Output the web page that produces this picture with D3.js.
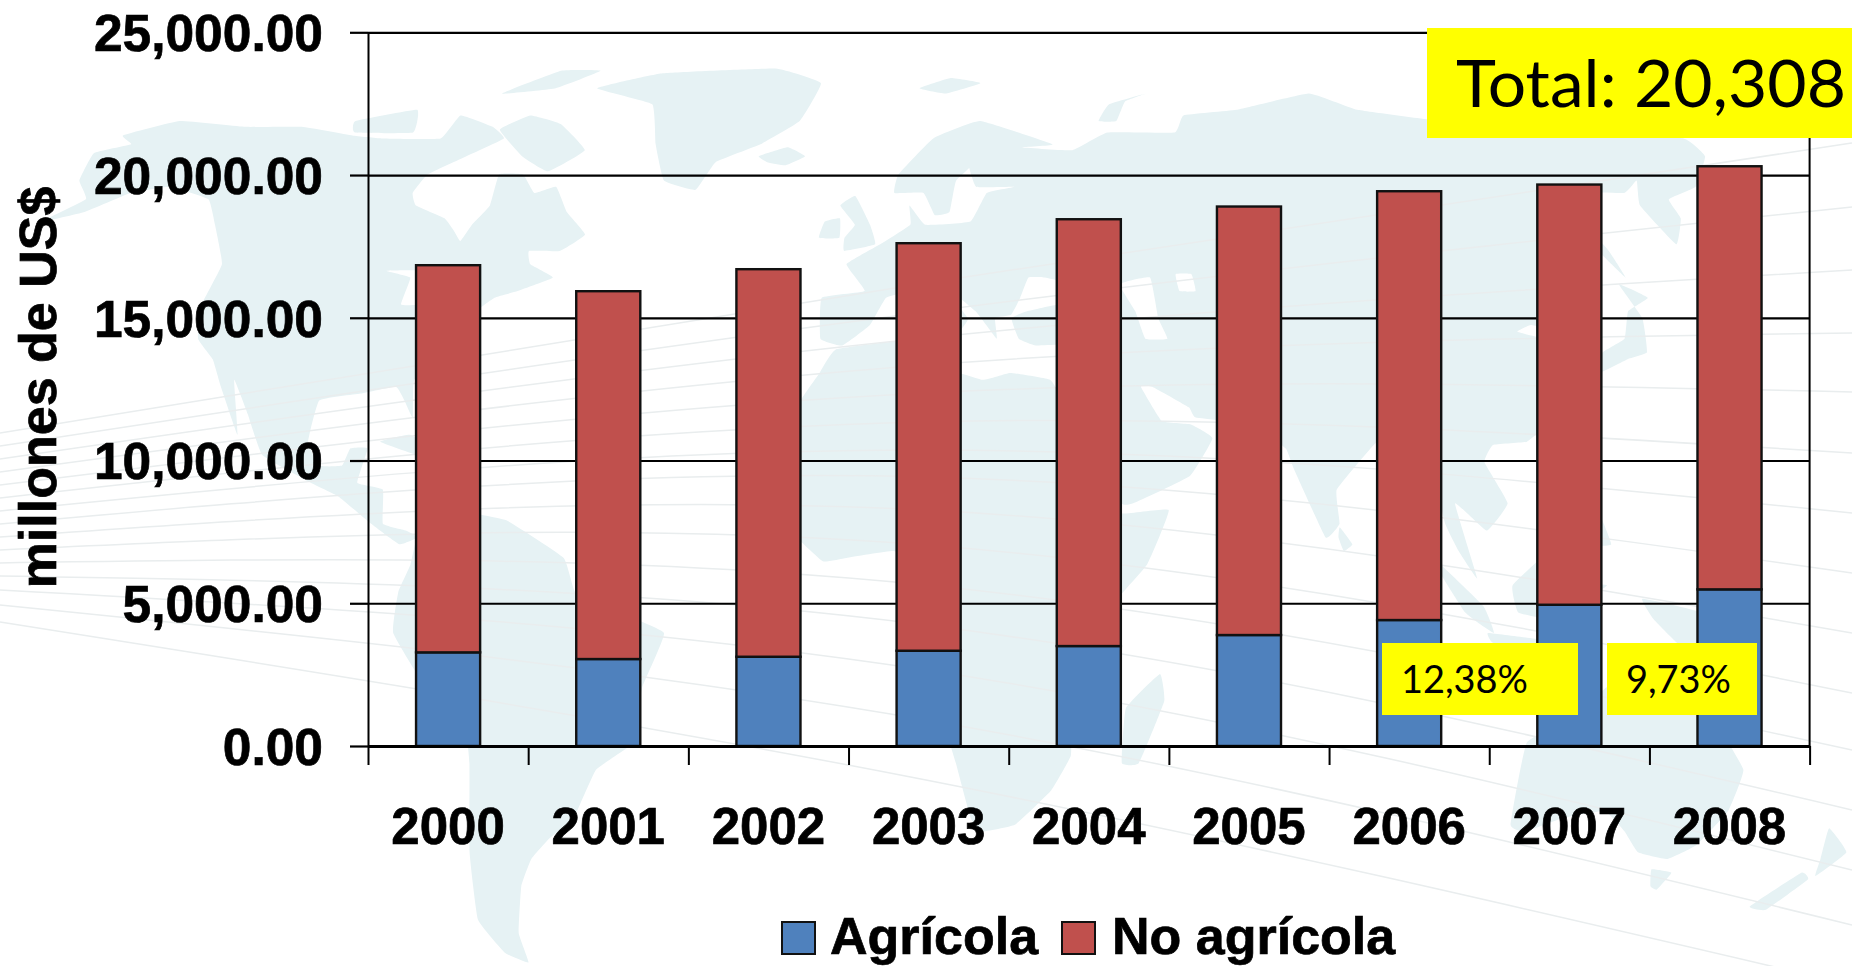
<!DOCTYPE html>
<html>
<head>
<meta charset="utf-8">
<script src="https://cdn.jsdelivr.net/npm/d3@7"></script>
<style>
    html, body { margin: 0; padding: 0; background: #fff; }
    svg { display: block; }
    text { font-family: "Liberation Sans", Arial, sans-serif; font-weight: bold; fill: #000; stroke: #000; stroke-width: 0.7; }
    .note { font-family: Lato, sans-serif; font-weight: normal; stroke: none; }
</style>
</head>
<body>
<svg id="chart" width="1852" height="966"></svg>
<script>
var years = ["2000", "2001", "2002", "2003", "2004", "2005", "2006", "2007", "2008"];
var agricola = [3280, 3046, 3127, 3337, 3501, 3887, 4412, 4948, 5487];
var no_agricola = [13562, 12885, 13575, 14275, 14951, 15010, 15021, 14719, 14821];
var yticks = [0, 5000, 10000, 15000, 20000, 25000];
var series_names = ["Agrícola", "No agrícola"];
var series_colors = ["#4f81bd", "#c0504d"];

// background map, rough coast outlines as [lon, lat]
var north_america = [[-168,65.5],[-162,67],[-166,68.5],[-157,71],[-141,70],[-128,70],[-115,68.5],[-108,68],[-95,68],[-94,72],[-85,70],[-81,68],[-87,65],[-93,62],[-94,59],[-92,57],[-85,55],[-82,53],[-80,51.5],[-79,54],[-77,57],[-78,62],[-73,62],[-69,59],[-65,60],[-61,56],[-56,52.5],[-60,50],[-66,50],[-65,48],[-60,46],[-66,44],[-70,43],[-74,40],[-76,35],[-81,31],[-80,25.5],[-82,28],[-84,30],[-90,29],[-97,28],[-97.5,22],[-95,18.5],[-91,18.5],[-90,21],[-87,21],[-88,16],[-83.5,15],[-83,10],[-79,9],[-77,8],[-80,7],[-85,10],[-91,14],[-96,16],[-105,20],[-109,26],[-113,31],[-110,23],[-115,30],[-118,34],[-122,37],[-124,42],[-124,48],[-130,54],[-135,58],[-145,60],[-152,59],[-158,56],[-165,54.5],[-160,58],[-165,61]];
var south_america = [[-77,8],[-72,12],[-62,10.5],[-52,5],[-50,0],[-44,-2.5],[-35,-6],[-39,-14],[-41,-22],[-48,-26],[-53,-33],[-58,-36],[-62,-39],[-65,-43],[-68,-50],[-68,-54.5],[-72,-53],[-75,-48],[-73,-38],[-70,-25],[-70,-18],[-76,-14],[-81,-6],[-80,0],[-78,4]];
var greenland = [[-66,77],[-52,80],[-24,81],[-12,78],[-16,71],[-24,67],[-33,64],[-36,59.5],[-43,61],[-47,67],[-51,74]];
var africa = [[-6,35.5],[10,37],[11,33.5],[20,31],[25,32],[32,31],[34,28],[37,21],[39,15],[43,11.5],[51,12],[47,4],[40,-3],[39,-9],[40.5,-15],[35,-20],[35,-24],[32,-29],[26,-34],[20,-35],[18,-33],[15,-25],[12,-17],[13,-8],[9,-1],[9.5,4],[4,6],[-4,5],[-8,4.5],[-13,8.5],[-17,14.5],[-16,20],[-13,27],[-9,32]];
var eurasia = [[-9,37],[-9,43],[-1,44],[-4.5,48],[2,51],[8,54],[8,57],[11,54],[20,54.5],[24,59],[30,60],[22,60],[21,64],[25,65.5],[18,61],[16,56],[13,55.5],[11,59],[5,59],[6,62],[14,68],[25,71],[40,67],[33,66.5],[44,66],[53,69],[68,69],[72,72],[85,73],[105,76],[113,73],[130,71],[140,72],[160,69.5],[180,68],[180,65],[171,60],[163,58],[162,55],[157,51],[156,57],[160,61],[155,59],[143,59],[135,54],[141,52],[135,44],[130,42.5],[127.5,39.5],[129,36],[126.5,34.5],[125,38],[121,39],[118,38],[122,37],[120,34],[122,30],[119,25],[114,22],[108,21.5],[106,19],[109,13],[105,9],[100,13],[103,2],[100,6],[98,10],[97,16],[94,16],[92,21],[88,22],[80,15],[80,10],[77.5,8],[73,18],[72,21],[67,24.5],[57,25.5],[56,27],[50,30],[48,30],[51,25],[56,24.5],[59.5,22.5],[55,17],[45,13],[43,13],[39,21],[35,28],[35,31],[36,36],[30,36],[27,37],[26,40],[29,41],[35,42],[41,41.5],[38,45],[33,46],[30,46],[28,43],[26,40.5],[23,40],[23,37],[19.5,41],[13,45.5],[18,40],[16,38],[12,42],[8,44],[3,43],[0,39],[-5,36]];
var australia = [[114,-22],[122,-18],[126,-14],[131,-12],[136,-12],[136,-15],[140,-17],[142,-11],[146,-19],[153,-26],[153,-32],[150,-37],[146,-39],[140,-38],[136,-35],[131,-32],[124,-33],[118,-35],[115,-34]];
var islands = [
    [[-5,50],[1,51],[0,54],[-3,58.5],[-6,57],[-3,54],[-5,52]],
    [[-10,52],[-6,52],[-6,55],[-9,54.5]],
    [[-24,65],[-18,66.5],[-14,65],[-18,63.5],[-22,64]],
    [[12,77],[20,79],[27,78],[18,76]],
    [[52,71],[56,74],[66,76],[60,74.5],[56,71]],
    [[-78,72],[-70,70.5],[-62,66],[-68,62.5],[-75,65],[-83,69.5]],
    [[-88,76],[-78,80.5],[-68,80.5],[-76,77]],
    [[-117,71],[-105,73],[-102,69],[-115,69]],
    [[-85,22],[-80,23],[-74,20],[-78,20]],
    [[-74,20],[-69,19.5],[-69,18],[-74,18]],
    [[95,5.5],[104,-2],[106,-6],[101,-3]],
    [[105,-6],[114,-7],[114,-8.5],[106,-7.5]],
    [[109,1],[117,7],[119,1],[116,-4],[110,-3]],
    [[119,1],[125,1],[122,-1],[123,-5],[120,-5]],
    [[131,-1],[141,-3],[150,-9],[143,-9],[138,-8],[133,-4]],
    [[120,18],[122,18],[124,13],[126,7],[122,7],[120,14]],
    [[130,32],[136,34],[140,35],[142,40],[141,45],[145,43],[140,41],[137,37],[132,35]],
    [[142,54],[143,50],[143,46],[141,50]],
    [[80,9.5],[82,7],[80.5,6],[79.7,8]],
    [[144,-40.5],[148,-41],[147,-43.5],[145.5,-43]],
    [[172.5,-34.5],[178,-38],[175,-41.5],[174,-39]],
    [[172,-41],[174,-42],[170,-46.5],[166.5,-46]],
    [[49.5,-12],[50.5,-16],[47,-25],[44,-25],[44,-17]]
];
var inland_water = [
    [[47,45],[53,46],[53,40],[54,37],[50,37],[49,41]],
    [[-92,47],[-84,47],[-80,44],[-79,43],[-83,42],[-87,42],[-87,46]],
    [[58,46.5],[61,46.5],[61,44],[58,44]]
];

// faint arcs of the slide background, y at the left edge, middle and right edge
var arc_left = [433, 446, 459, 472, 485, 498, 511, 524, 537, 550, 563, 576, 590, 605, 622];
var arc_middle = [283, 312, 338, 365, 393, 422, 450, 477, 510, 545, 585, 625, 670, 720, 780];
var arc_right = [143, 207, 270, 333, 392, 453, 513, 573, 633, 693, 750, 810, 870, 925, 985];

function build_background(svg) {
    var projection = d3.geoNaturalEarth1().scale(388).translate([870, 592]);
    var outline = d3.line().curve(d3.curveCardinalClosed.tension(0.7));
    var land = [north_america, south_america, greenland, africa, eurasia, australia].concat(islands);

    var g = svg.append("g").attr("class", "background");
    g.selectAll("path.land")
        .data(land)
        .join("path")
        .attr("class", "land")
        .attr("fill", "#e6f2f4")
        .attr("d", d => outline(d.map(projection)));

    g.selectAll("path.water")
        .data(inland_water)
        .join("path")
        .attr("class", "water")
        .attr("fill", "#fff")
        .attr("d", d => outline(d.map(projection)));

    var arc = d3.line().curve(d3.curveNatural);
    arc_left.forEach(function(left, i) {
        g.append("path")
            .attr("fill", "none")
            .attr("stroke", "#e9edee")
            .attr("stroke-width", 1.5)
            .attr("d", arc([[0, left], [926, arc_middle[i]], [1852, arc_right[i]]]));
    });
}

function build_chart() {
    const LEFT = 368, RIGHT = 1809.6, TOP = 32.3, BOTTOM = 746;
    const FONT_SIZE = 51.5;

    var svg = d3.select("svg#chart");
    build_background(svg);

    var xscale = d3.scaleBand()
        .domain(years)
        .range([LEFT, RIGHT])
        .paddingInner(0.6)
        .paddingOuter(0.3);

    // ticks sit between the categories
    var xedges = d3.scaleLinear()
        .domain([0, years.length])
        .range([LEFT, RIGHT]);

    var yscale = d3.scaleLinear()
        .domain([0, 25000])
        .range([BOTTOM, TOP]);

    // gridlines and the axes
    var yaxis = d3.axisLeft(yscale)
        .tickValues(yticks)
        .tickFormat(d3.format(",.2f"))
        .tickSize(-(RIGHT - LEFT))
        .tickPadding(45)
        .tickSizeOuter(0);

    var y_g = svg.append("g")
        .attr("transform", "translate(" + LEFT + ",0)")
        .call(yaxis);
    y_g.selectAll(".tick line").attr("stroke", "#000").attr("stroke-width", 2.2);
    y_g.select(".domain").attr("stroke", "#000").attr("stroke-width", 2);
    y_g.selectAll(".tick text").attr("font-size", FONT_SIZE).attr("dy", "0.355em");

    // little outer tick part left of the axis
    svg.append("g")
        .attr("transform", "translate(" + LEFT + ",0)")
        .call(d3.axisLeft(yscale).tickValues(yticks).tickFormat("").tickSize(18).tickSizeOuter(0))
        .call(g => g.select(".domain").remove())
        .selectAll("line").attr("stroke", "#000").attr("stroke-width", 2.2);

    svg.append("line")
        .attr("x1", RIGHT).attr("x2", RIGHT)
        .attr("y1", TOP).attr("y2", BOTTOM)
        .attr("stroke", "#000")
        .attr("stroke-width", 2);

    // stacked bars
    var stack = d3.stack().keys([0, 1]).value((d, key) => d[key]);
    var rows = years.map((year, i) => [agricola[i], no_agricola[i]]);
    var layers = stack(rows);

    svg.selectAll("g.layer")
        .data(layers)
        .join("g")
        .attr("class", "layer")
        .attr("fill", (d, i) => series_colors[i])
        .selectAll("rect")
        .data(d => d)
        .join("rect")
        .attr("x", (d, i) => xscale(years[i]))
        .attr("width", xscale.bandwidth())
        .attr("y", d => yscale(d[1]))
        .attr("height", d => yscale(d[0]) - yscale(d[1]))
        .attr("stroke", "#111")
        .attr("stroke-width", 2.4);

    var edge_g = svg.append("g")
        .attr("transform", "translate(0," + BOTTOM + ")")
        .call(d3.axisBottom(xedges).tickValues(d3.range(years.length + 1)).tickFormat("").tickSize(19).tickSizeOuter(0));
    edge_g.selectAll("line").attr("stroke", "#000").attr("stroke-width", 2);
    edge_g.select(".domain").attr("stroke", "#000").attr("stroke-width", 3);

    var year_g = svg.append("g")
        .attr("transform", "translate(0," + BOTTOM + ")")
        .call(d3.axisBottom(xscale).tickSize(0).tickPadding(62));
    year_g.select(".domain").remove();
    year_g.selectAll("text").attr("font-size", 51).attr("dy", "0.71em");

    // y title
    svg.append("text")
        .attr("transform", "translate(56,387.5) rotate(-90)")
        .attr("text-anchor", "middle")
        .attr("font-size", 52)
        .text("millones de US$");

    // legend
    var legend_box_x = [782, 1062];
    var legend_text_x = [830, 1112];
    series_names.forEach(function(name, i) {
        svg.append("rect")
            .attr("x", legend_box_x[i]).attr("y", 922)
            .attr("width", 33).attr("height", 32)
            .attr("fill", series_colors[i])
            .attr("stroke", "#111")
            .attr("stroke-width", 2);
        svg.append("text")
            .attr("x", legend_text_x[i]).attr("y", 954)
            .attr("font-size", 52)
            .text(name);
    });

    // yellow notes on top
    var notes = [
        {text: "Total: 20,308", x: 1427, y: 28, w: 425, h: 110, tx: 1456, ty: 107, tw: 390, size: 66},
        {text: "12,38%", x: 1382, y: 643, w: 196, h: 72, tx: 1401, ty: 693, tw: 127, size: 38},
        {text: "9,73%", x: 1607, y: 643, w: 150, h: 72, tx: 1626, ty: 693, tw: 105, size: 38}
    ];
    notes.forEach(function(n) {
        svg.append("rect")
            .attr("x", n.x).attr("y", n.y)
            .attr("width", n.w).attr("height", n.h)
            .attr("fill", "#ffff00");
        svg.append("text")
            .attr("class", "note")
            .attr("x", n.tx).attr("y", n.ty)
            .attr("font-size", n.size)
            .attr("textLength", n.tw)
            .attr("lengthAdjust", "spacingAndGlyphs")
            .text(n.text);
    });
}

build_chart();
</script>
</body>
</html>
